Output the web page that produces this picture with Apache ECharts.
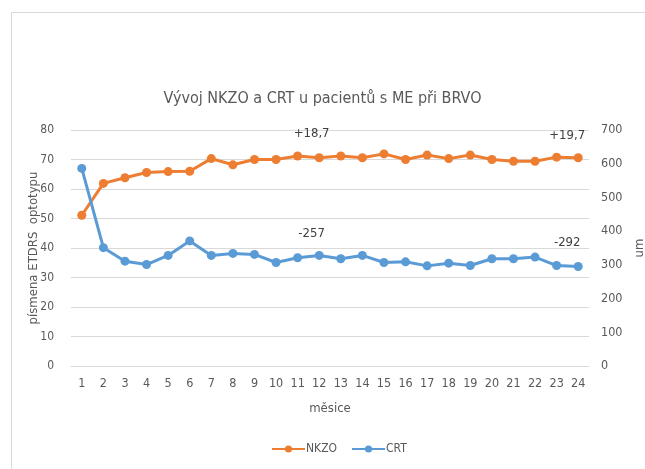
<!DOCTYPE html>
<html><head><meta charset="utf-8">
<script src="https://cdn.jsdelivr.net/npm/echarts@6/dist/echarts.min.js"></script>
<style>html,body{margin:0;padding:0;background:#fff}#c{width:645px;height:469px}</style>
</head><body><div id="c"></div>
<script>
const months = ['1','2','3','4','5','6','7','8','9','10','11','12','13','14','15','16','17','18','19','20','21','22','23','24'];
const nkzo = [51.1,61.9,63.8,65.6,65.9,66,70.3,68.2,70,70,71.2,70.6,71.2,70.6,71.9,70,71.5,70.3,71.5,70,69.4,69.4,70.8,70.6];
const crt = [586,351,311,301,328,371,328,334,331,307,321,328,318,328,307,309,297,305,298,318,318,323,298,295];
const nkzoNotes = {10:'+18,7', 23:'+19,7'};
const crtNotes = {10:'-257', 23:'-292'};

const FONT = '"Liberation Sans Narrow","DejaVu Sans Condensed","Liberation Sans",sans-serif';
const GREY = '#595959';
function withNotes(vals, notes, dist){
  return vals.map((v,i)=>{
    if(notes[i]===undefined) return v;
    return {value:v, label:{show:true, position:'top', distance:dist, formatter:notes[i],
      offset:[i===10?14:-11,0], color:'#404040', fontSize:13, fontFamily:FONT}};
  });
}
const chart = echarts.init(document.getElementById('c'), null, {renderer:'canvas'});
chart.setOption({
  animation:false,
  backgroundColor:'#fff',
  graphic:[{type:'rect', shape:{x:11.5,y:12.5,width:700,height:500}, style:{fill:'none', stroke:'#d9d9d9', lineWidth:1}, silent:true}],
  title:{text:'Vývoj NKZO a CRT u pacientů s ME při BRVO', left:'center', top:86,
    textStyle:{fontFamily:FONT, fontSize:16, fontWeight:'normal', color:GREY}},
  grid:{left:71, right:56, top:130, bottom:103, containLabel:false, outerBoundsMode:'none'},
  legend:{bottom:9, left:266, itemWidth:33, itemHeight:9, itemGap:14,
    textStyle:{fontFamily:FONT, fontSize:12, color:GREY, padding:[0,0,0,-4]},
    data:['NKZO','CRT']},
  xAxis:{type:'category', data:months, boundaryGap:true,
    name:'měsice', nameLocation:'middle', nameGap:36, nameMoveOverlap:false,
    nameTextStyle:{fontFamily:FONT, fontSize:13, color:GREY},
    axisLine:{lineStyle:{color:'#d9d9d9'}}, axisTick:{show:false},
    axisLabel:{color:GREY, fontFamily:FONT, fontSize:12.5, margin:11, interval:0}},
  yAxis:[
    {type:'value', min:0, max:80, interval:10, position:'left',
     name:'písmena ETDRS  optotypu', nameLocation:'middle', nameGap:31, nameMoveOverlap:false,
     nameTextStyle:{fontFamily:FONT, fontSize:13, color:GREY},
     axisLine:{show:false}, axisTick:{show:false},
     axisLabel:{color:GREY, fontFamily:FONT, fontSize:12, margin:17},
     splitLine:{lineStyle:{color:'#d9d9d9'}}},
    {type:'value', min:0, max:700, interval:100, position:'right',
     name:'um', nameLocation:'middle', nameGap:44, nameMoveOverlap:false,
     nameTextStyle:{fontFamily:FONT, fontSize:13, color:GREY},
     axisLine:{show:false}, axisTick:{show:false},
     axisLabel:{color:GREY, fontFamily:FONT, fontSize:12.5, margin:12},
     splitLine:{show:false}}
  ],
  series:[
    {name:'NKZO', type:'line', yAxisIndex:0, data:withNotes(nkzo,nkzoNotes,11),
     color:'#ED7D31', lineStyle:{width:3, color:'#ED7D31'}, symbol:'circle', symbolSize:9,
     itemStyle:{color:'#ED7D31'}},
    {name:'CRT', type:'line', yAxisIndex:1, data:withNotes(crt,crtNotes,13),
     color:'#5B9BD5', lineStyle:{width:3, color:'#5B9BD5'}, symbol:'circle', symbolSize:9,
     itemStyle:{color:'#5B9BD5'}}
  ]
});
</script></body></html>
